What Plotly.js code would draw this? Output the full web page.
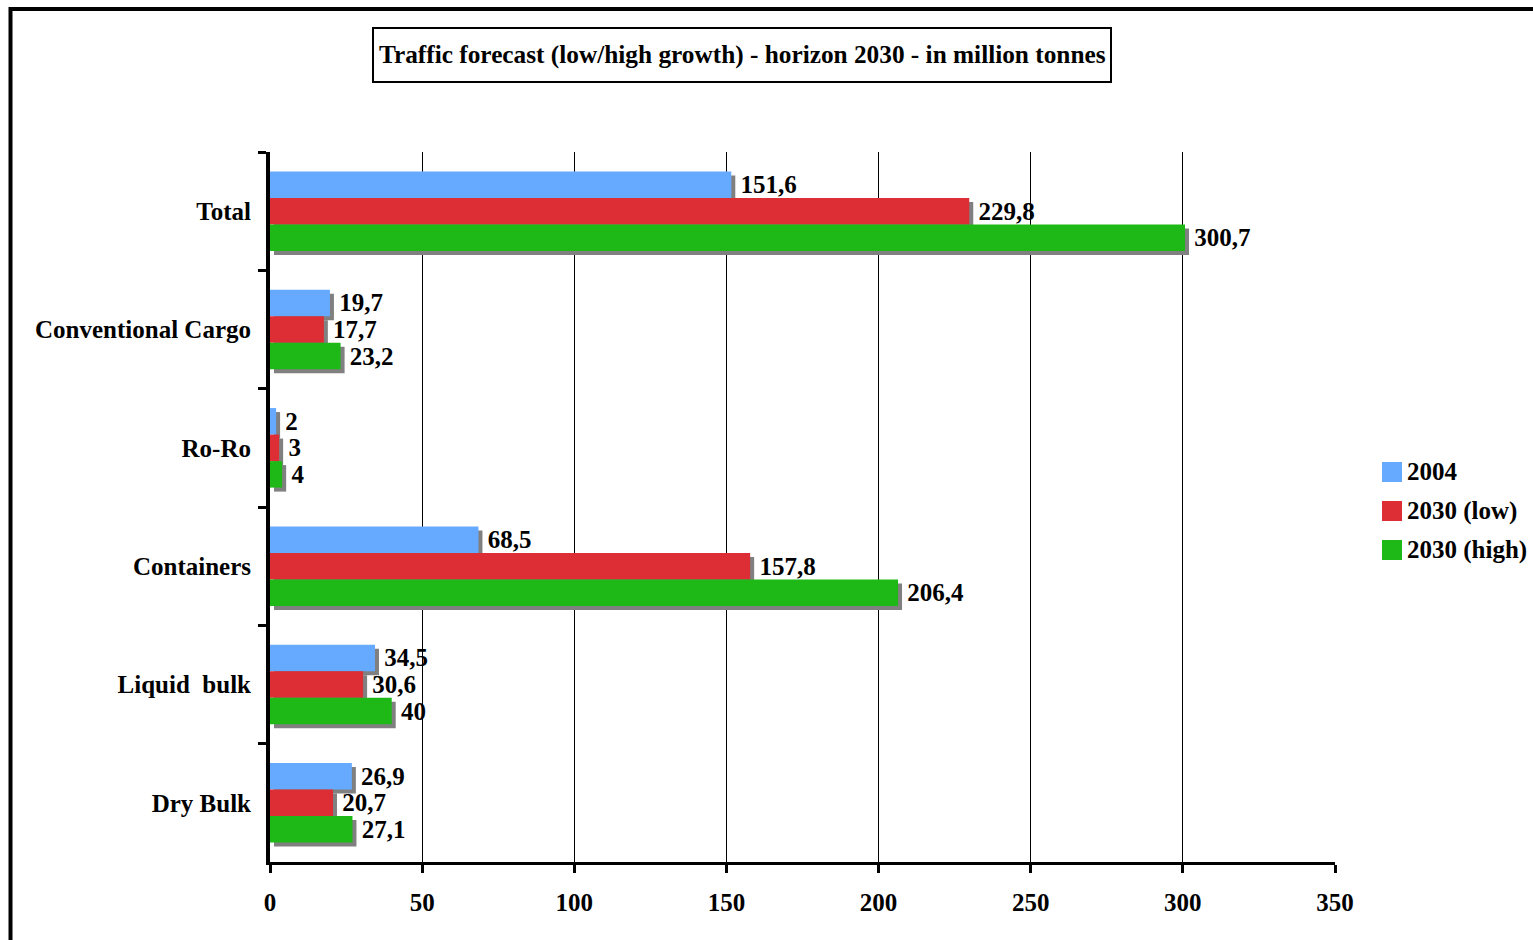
<!DOCTYPE html>
<html>
<head>
<meta charset="utf-8">
<script src="https://cdn.plot.ly/plotly-3.0.1.min.js"></script>
<style>
  html, body { margin: 0; padding: 0; background: #ffffff; }
  #chart { width: 1533px; height: 940px; }
</style>
</head>
<body>
<div id="chart"></div>
<script>
// Port traffic by cargo type, million tonnes
const categories = ['Total', 'Conventional Cargo', 'Ro-Ro', 'Containers', 'Liquid  bulk', 'Dry Bulk'];
const seriesNames = ['2004', '2030 (low)', '2030 (high)'];
const values2004 = [151.6, 19.7, 2, 68.5, 34.5, 26.9];
const values2030Low = [229.8, 17.7, 3, 157.8, 30.6, 20.7];
const values2030High = [300.7, 23.2, 4, 206.4, 40, 27.1];
const xTicks = [0, 50, 100, 150, 200, 250, 300, 350];

const seriesValues = [values2004, values2030Low, values2030High];
const colors = ['#66aaff', '#dc2e34', '#1eb817'];
const shadowColor = '#808080';

// Plot-area geometry (pixels) used to convert the drop-shadow offset into data units
const W = 1533, H = 940;
const M = { l: 270, r: 198, t: 152, b: 78 };
const plotW = W - M.l - M.r;
const plotH = H - M.t - M.b;
const xMax = 350;
const shadowPx = 4;
const shadowDx = shadowPx * xMax / plotW;
const shadowDy = shadowPx * categories.length / plotH;

const groupWidth = 0.672;
const barW = groupWidth / seriesNames.length;

const font = { family: 'Liberation Serif, Times New Roman, serif', weight: 'bold', color: '#000000' };
const fmt = v => String(v).replace('.', ',');

const traces = [];
// grey drop shadows first so the coloured bars sit on top
seriesValues.forEach((vals, i) => {
  traces.push({
    type: 'bar', orientation: 'h',
    y: categories, x: vals,
    base: shadowDx,
    offset: -groupWidth / 2 + i * barW + shadowDy,
    width: barW,
    marker: { color: shadowColor, line: { width: 0 } },
    showlegend: false, hoverinfo: 'skip'
  });
});
seriesValues.forEach((vals, i) => {
  traces.push({
    type: 'bar', orientation: 'h',
    name: seriesNames[i],
    y: categories, x: vals,
    offset: -groupWidth / 2 + i * barW,
    width: barW,
    marker: { color: colors[i], line: { width: 0 } },
    text: vals.map(v => '\u00a0' + fmt(v)),
    textposition: 'outside',
    constraintext: 'none',
    cliponaxis: false,
    textfont: Object.assign({}, font, { size: 25 }),
    showlegend: false
  });
});

const px2x = px => (px - M.l) / plotW;
const px2y = py => (H - M.b - py) / plotH;

const shapes = [
  // outer frame
  { type: 'rect', xref: 'paper', yref: 'paper',
    x0: px2x(10.5), x1: px2x(1560), y0: px2y(9), y1: px2y(980),
    line: { color: '#000000', width: 4 }, fillcolor: 'rgba(0,0,0,0)' },
  // title box
  { type: 'rect', xref: 'paper', yref: 'paper',
    x0: px2x(373), x1: px2x(1111), y0: px2y(82), y1: px2y(28),
    line: { color: '#000000', width: 2 }, fillcolor: '#ffffff' }
];
const annotations = [
  { xref: 'paper', yref: 'paper', x: px2x(742), y: px2y(55),
    xanchor: 'center', yanchor: 'middle', showarrow: false,
    text: 'Traffic forecast (low/high growth) - horizon 2030 - in million tonnes',
    font: Object.assign({}, font, { size: 25.3 }) }
];

// legend: coloured squares with labels
const legendY = [472, 511, 550];
seriesNames.forEach((name, i) => {
  shapes.push({ type: 'rect', xref: 'paper', yref: 'paper',
    x0: px2x(1382), x1: px2x(1402), y0: px2y(legendY[i] + 10), y1: px2y(legendY[i] - 10),
    line: { width: 0 }, fillcolor: colors[i] });
  annotations.push({ xref: 'paper', yref: 'paper', x: px2x(1405), y: px2y(legendY[i]),
    xanchor: 'left', yanchor: 'middle', showarrow: false, text: name,
    font: Object.assign({}, font, { size: 25 }) });
});

const layout = {
  width: W, height: H,
  margin: M,
  paper_bgcolor: '#ffffff', plot_bgcolor: '#ffffff',
  barmode: 'overlay',
  showlegend: false,
  xaxis: {
    range: [0, xMax], tickvals: xTicks, ticktext: xTicks.map(String),
    showgrid: true, gridcolor: '#000000', gridwidth: 1,
    zeroline: false,
    showline: true, linecolor: '#000000', linewidth: 3,
    ticks: 'outside', ticklen: 8, tickwidth: 3, tickcolor: '#000000',
    ticklabelstandoff: 8,
    tickfont: Object.assign({}, font, { size: 25 }),
    fixedrange: true
  },
  yaxis: {
    type: 'category', categoryorder: 'array', categoryarray: categories,
    range: [categories.length - 0.5, -0.5],
    showgrid: false, zeroline: false,
    showline: true, linecolor: '#000000', linewidth: 4,
    ticks: 'outside', tickson: 'boundaries', ticklen: 8, tickwidth: 3, tickcolor: '#000000',
    ticklabelstandoff: 10,
    tickfont: Object.assign({}, font, { size: 25 }),
    fixedrange: true
  },
  shapes: shapes,
  annotations: annotations
};

Plotly.newPlot('chart', traces, layout, { displayModeBar: false, staticPlot: true });
</script>
</body>
</html>
